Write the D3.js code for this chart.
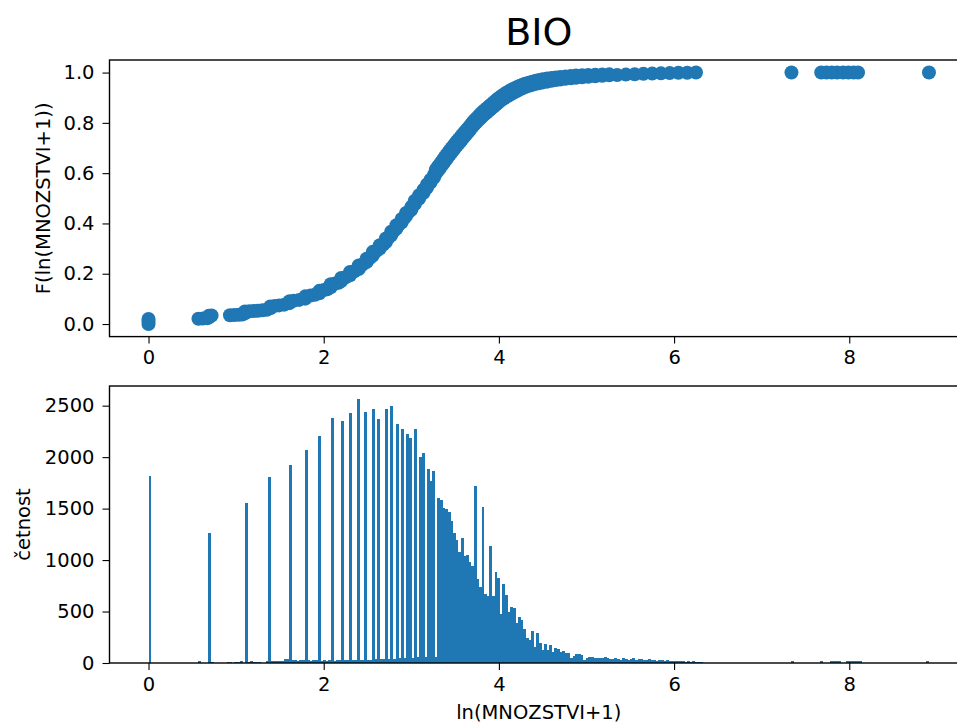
<!DOCTYPE html>
<html>
<head>
    <script src="https://d3js.org/d3.v7.min.js"></script>
    <style>
        body { margin: 0; background: #fff; }
        text { font-family: "DejaVu Sans", sans-serif; }
    </style>
</head>
<body>
    <script>
        // ln(MNOZSTVI+1) range and histogram bin counts (300 equal bins from 0 to valueMax)
        const valueMax = 8.91;
        const histCounts = [
            1820,0,0,0,0,0,0,0,0,0,
            0,0,0,0,0,0,0,0,0,15,
            0,0,0,1265,10,0,0,0,0,0,
            8,8,0,10,10,20,0,1555,12,15,
            12,10,10,0,0,15,1810,18,15,20,
            18,18,40,35,1928,25,30,22,28,25,
            2073,25,22,28,25,2205,22,25,20,25,
            2380,22,25,25,2353,25,28,2428,25,28,
            2563,28,30,2442,30,32,2467,35,2366,38,
            40,2467,40,2500,42,2325,45,2277,48,2220,
            2190,50,2277,55,2003,2036,55,1884,1770,1867,
            55,1605,1583,1502,1492,1469,1379,1265,1194,1075,
            1211,1039,1049,983,945,1722,813,741,1518,670,
            650,1136,650,886,822,478,765,665,500,545,
            530,385,447,417,330,240,223,314,152,288,
            197,126,184,126,175,110,143,133,110,120,
            94,94,45,68,87,87,78,29,45,55,
            55,45,45,45,45,60,50,40,35,50,
            40,30,45,35,30,40,45,30,35,40,
            25,30,35,25,30,20,25,30,20,25,
            20,18,15,20,15,18,12,15,12,15,
            12,10,10,0,0,0,0,0,0,0,
            0,0,0,0,0,0,0,0,0,0,
            0,0,0,0,0,0,0,0,0,0,
            0,0,0,0,0,0,0,15,0,0,
            0,0,0,0,0,0,0,0,15,0,
            0,0,15,15,15,15,0,0,15,15,
            15,15,15,15,0,0,0,0,0,0,
            0,0,0,0,0,0,0,0,0,0,
            0,0,0,0,0,0,0,0,0,15
        ];

        // empirical distribution function points [ln(MNOZSTVI+1), F]
        const ecdf = [
            [0,0],[0,0.01],[0,0.02],
            [0.57,0.021],[0.62,0.022],[0.67,0.023],[0.69,0.027],[0.69,0.033],[0.72,0.034],
            [0.93,0.035],[0.98,0.036],[1.03,0.037],[1.07,0.038],[1.1,0.043],[1.1,0.05],
            [1.15,0.051],[1.2,0.052],[1.25,0.053],[1.3,0.055],[1.35,0.057],[1.39,0.063],[1.39,0.07],
            [1.44,0.072],[1.49,0.074],[1.55,0.077],[1.61,0.083],[1.61,0.091],
            [1.66,0.093],[1.72,0.096],[1.79,0.101],[1.79,0.11],
            [1.85,0.113],[1.9,0.116],[1.95,0.122],[1.95,0.132],
            [2.0,0.135],[2.04,0.138],[2.08,0.146],[2.08,0.158],
            [2.13,0.161],[2.17,0.164],[2.2,0.171],[2.2,0.183],
            [2.25,0.186],[2.3,0.194],[2.3,0.207],
            [2.35,0.21],[2.4,0.219],[2.4,0.233],
            [2.44,0.236],[2.49,0.246],[2.49,0.26],
            [2.53,0.263],[2.56,0.272],[2.56,0.287],
            [2.6,0.29],[2.64,0.3],[2.64,0.313],
            [2.68,0.316],[2.71,0.326],[2.71,0.34],
            [2.74,0.343],[2.77,0.353],[2.77,0.367],
            [2.8,0.37],[2.83,0.38],[2.83,0.393],
            [2.86,0.396],[2.89,0.405],[2.89,0.418],
            [2.92,0.421],[2.94,0.43],[2.94,0.442],
            [2.97,0.445],[3.0,0.454],[3.0,0.466],
            [3.02,0.47],[3.04,0.477],[3.04,0.49],
            [3.07,0.494],[3.09,0.5],[3.09,0.512],
            [3.11,0.515],[3.14,0.522],[3.14,0.534],
            [3.16,0.537],[3.18,0.543],[3.18,0.555],
            [3.2,0.558],[3.22,0.564],[3.22,0.574],
            [3.24,0.578],[3.26,0.584],[3.26,0.594],
            [3.28,0.598],[3.3,0.608],[3.32,0.617],[3.34,0.627],[3.36,0.636],[3.38,0.646],
            [3.4,0.655],[3.42,0.665],[3.44,0.674],[3.46,0.683],[3.48,0.692],[3.5,0.701],
            [3.52,0.71],[3.54,0.718],[3.56,0.726],[3.58,0.735],[3.6,0.744],[3.62,0.752],
            [3.64,0.76],[3.66,0.768],[3.68,0.777],[3.7,0.786],[3.72,0.794],[3.74,0.801],
            [3.76,0.808],[3.78,0.815],[3.8,0.822],[3.82,0.829],[3.84,0.835],[3.86,0.841],
            [3.88,0.847],[3.9,0.853],[3.92,0.859],[3.94,0.865],[3.96,0.871],[3.98,0.877],
            [4.0,0.883],[4.03,0.891],[4.06,0.898],[4.09,0.905],[4.12,0.911],[4.15,0.917],
            [4.18,0.923],[4.21,0.928],[4.24,0.933],[4.27,0.938],[4.3,0.942],[4.34,0.947],
            [4.38,0.951],[4.42,0.955],[4.46,0.958],[4.5,0.961],[4.55,0.964],[4.6,0.967],
            [4.65,0.97],[4.7,0.972],[4.76,0.975],[4.82,0.977],[4.88,0.979],[4.95,0.981],
            [5.02,0.983],[5.1,0.985],[5.18,0.987],[5.26,0.989],[5.35,0.99],[5.45,0.992],
            [5.55,0.993],[5.65,0.995],[5.75,0.996],[5.85,0.997],[5.95,0.998],[6.05,0.999],
            [6.15,0.999],[6.25,1.0],
            [7.34,1.0],[7.68,1.0],[7.74,1.0],[7.8,1.0],[7.86,1.0],[7.93,1.0],[7.99,1.0],
            [8.05,1.0],[8.1,1.0],[8.91,1.0]
        ];

        // upper end of the tied-value stacks in the dense part of the curve
        const ecdfStackTop = [
            [3.28,0.614],[3.3,0.624],[3.32,0.633],[3.34,0.643],[3.36,0.652],[3.38,0.662],
            [3.4,0.671],[3.42,0.681],[3.44,0.69],[3.46,0.699],[3.48,0.708],[3.5,0.717],
            [3.52,0.726],[3.54,0.734],[3.56,0.742],[3.58,0.751],[3.6,0.76],[3.62,0.768],
            [3.64,0.776],[3.66,0.784],[3.68,0.793],[3.7,0.802],[3.72,0.81],[3.74,0.817],
            [3.76,0.824],[3.78,0.831],[3.8,0.838],[3.82,0.845],[3.84,0.851],[3.86,0.857],
            [3.88,0.863],[3.9,0.869],[3.92,0.875],[3.94,0.881],[3.96,0.887],[3.98,0.893],
            [4.0,0.899],[4.03,0.907],[4.06,0.914],[4.09,0.921],[4.12,0.927],[4.15,0.933],
            [4.18,0.938],[4.21,0.943],[4.24,0.948],[4.27,0.952],[4.3,0.956],[4.34,0.96],
            [4.38,0.964],[4.42,0.967],[4.46,0.97],[4.5,0.973],[4.55,0.976],[4.6,0.978],
            [4.65,0.98],[4.7,0.982],[4.76,0.984],[4.82,0.986],[4.88,0.988],[4.95,0.989],
            [5.02,0.99],[5.1,0.991],[5.18,0.992],[5.26,0.993]
        ];

        const xTicks = [0, 2, 4, 6, 8];
        const ecdfTicks = [0, 0.2, 0.4, 0.6, 0.8, 1.0];
        const histTicks = [0, 500, 1000, 1500, 2000, 2500];

        const blue = '#1f77b4';
        const width = 957, height = 726;
        const left = 109.5, right = 968;
        const top1 = 60, bottom1 = 336.6;
        const top2 = 386, bottom2 = 663;

        const svg = d3.select('body')
            .append('svg')
            .attr('width', width)
            .attr('height', height);

        const pad = valueMax * 0.05;
        const xScale = d3.scaleLinear()
            .domain([-pad, valueMax + pad])
            .range([left, right]);

        const yTop = d3.scaleLinear()
            .domain([-0.05, 1.05])
            .range([bottom1, top1]);

        const yHist = d3.scaleLinear()
            .domain([0, d3.max(histCounts) * 1.05])
            .range([bottom2, top2]);

        function styleAxis(g) {
            g.selectAll('.domain').remove();
            g.selectAll('line').attr('stroke', '#000').attr('stroke-width', 1.1);
            g.selectAll('text').attr('font-size', '19.5px').attr('fill', '#000');
        }

        // --- top: ECDF scatter ---
        svg.append('clipPath').attr('id', 'clip1')
            .append('rect')
            .attr('x', left).attr('y', top1)
            .attr('width', right - left).attr('height', bottom1 - top1);

        svg.append('g')
            .attr('clip-path', 'url(#clip1)')
            .selectAll('circle')
            .data(ecdf.concat(ecdfStackTop))
            .join('circle')
            .attr('cx', d => xScale(d[0]))
            .attr('cy', d => yTop(d[1]))
            .attr('r', 7)
            .attr('fill', blue);

        svg.append('g')
            .attr('transform', `translate(0,${bottom1})`)
            .call(d3.axisBottom(xScale).tickValues(xTicks).tickSize(7).tickPadding(7).tickFormat(d3.format('d')))
            .call(styleAxis);

        svg.append('g')
            .attr('transform', `translate(${left},0)`)
            .call(d3.axisLeft(yTop).tickValues(ecdfTicks).tickSize(7).tickPadding(8).tickFormat(d3.format('.1f')))
            .call(styleAxis);

        svg.append('rect')
            .attr('x', left).attr('y', top1)
            .attr('width', right - left).attr('height', bottom1 - top1)
            .attr('fill', 'none').attr('stroke', '#000').attr('stroke-width', 1.4);

        // --- bottom: histogram ---
        const binWidth = valueMax / histCounts.length;
        const bins = histCounts.map((c, i) => ({ x0: i * binWidth, x1: (i + 1) * binWidth, count: c }))
            .filter(d => d.count > 0);

        svg.append('g')
            .attr('shape-rendering', 'crispEdges')
            .selectAll('rect')
            .data(bins)
            .join('rect')
            .attr('x', d => xScale(d.x0))
            .attr('width', d => xScale(d.x1) - xScale(d.x0) + 0.35)
            .attr('y', d => yHist(d.count))
            .attr('height', d => Math.max(1, yHist(0) - yHist(d.count)))
            .attr('fill', blue);

        svg.append('g')
            .attr('transform', `translate(0,${bottom2})`)
            .call(d3.axisBottom(xScale).tickValues(xTicks).tickSize(7).tickPadding(7).tickFormat(d3.format('d')))
            .call(styleAxis);

        svg.append('g')
            .attr('transform', `translate(${left},0)`)
            .call(d3.axisLeft(yHist).tickValues(histTicks).tickSize(7).tickPadding(8).tickFormat(d3.format('d')))
            .call(styleAxis);

        svg.append('rect')
            .attr('x', left).attr('y', top2)
            .attr('width', right - left).attr('height', bottom2 - top2)
            .attr('fill', 'none').attr('stroke', '#000').attr('stroke-width', 1.4);

        // --- titles and labels ---
        svg.append('text')
            .attr('x', (left + right) / 2)
            .attr('y', 45)
            .attr('text-anchor', 'middle')
            .attr('font-size', '38px')
            .text('BIO');

        svg.append('text')
            .attr('transform', `translate(43,${(top1 + bottom1) / 2}) rotate(-90)`)
            .attr('text-anchor', 'middle')
            .attr('dy', '0.35em')
            .attr('font-size', '19.5px')
            .text('F(ln(MNOZSTVI+1))');

        svg.append('text')
            .attr('transform', `translate(23,${(top2 + bottom2) / 2}) rotate(-90)`)
            .attr('text-anchor', 'middle')
            .attr('dy', '0.35em')
            .attr('font-size', '19.5px')
            .text('četnost');

        svg.append('text')
            .attr('x', (left + right) / 2)
            .attr('y', 719)
            .attr('text-anchor', 'middle')
            .attr('font-size', '19.5px')
            .text('ln(MNOZSTVI+1)');
    </script>
</body>
</html>
